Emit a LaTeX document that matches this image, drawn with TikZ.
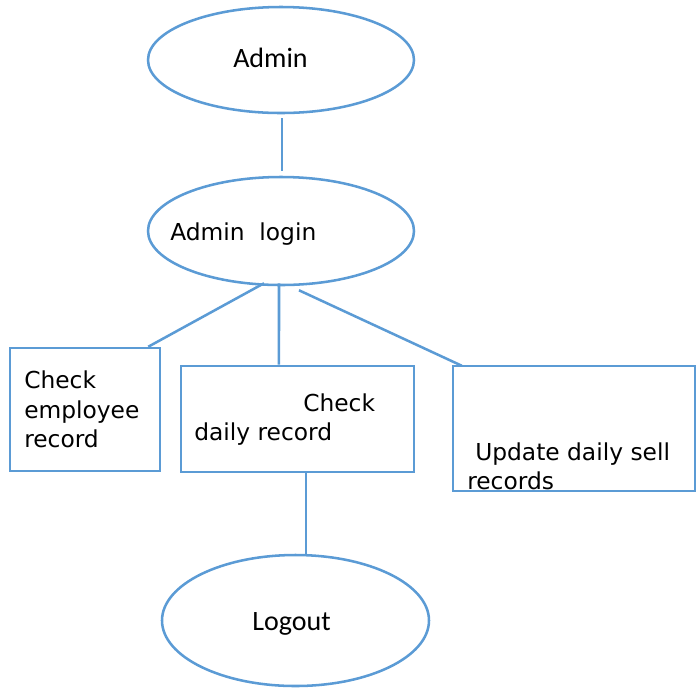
\documentclass[tikz,border=0pt]{standalone}
\usepackage{fontspec}
\setmainfont{DejaVu Sans}
\newfontfamily\calfont{Carlito}
\usetikzlibrary{shapes.geometric}
\definecolor{lineblue}{RGB}{91,155,213}
\tikzset{
  px/.style={x=0.75pt,y=-0.75pt},
  oval/.style={draw=lineblue,line width=1.9pt,ellipse,inner sep=0pt},
  panel/.style={draw=lineblue,line width=1.9pt,rectangle,inner sep=0pt},
  link/.style={draw=lineblue,line width=1.9pt},
  txt/.style={font=\fontsize{17.5}{21}\selectfont,anchor=base west,inner sep=0pt,text=black},
  caltxt/.style={font=\calfont\fontsize{21}{24}\selectfont,anchor=base west,inner sep=0pt,text=black}
}
\begin{document}
\begin{tikzpicture}[px]
\useasboundingbox (0,0) rectangle (700,687);
% ovals
\node[oval,minimum width=199.5pt,minimum height=79.5pt] (admin) at (281,60) {};
\node[oval,minimum width=199.5pt,minimum height=81pt] (login) at (281,231) {};
\node[oval,minimum width=200.25pt,minimum height=98.25pt] (logout) at (295.5,620.5) {};
% boxes
\node[panel,minimum width=112.5pt,minimum height=92.25pt] (emp) at (85,409.5) {};
\node[panel,minimum width=174.75pt,minimum height=79.5pt] (daily) at (297.5,419) {};
\node[panel,minimum width=181.5pt,minimum height=93.75pt] (sell) at (574,428.5) {};
% connectors
\draw[link] ([yshift=-3pt,xshift=0.75pt]admin.south) -- ([yshift=3.75pt,xshift=0.75pt]login.north);
\draw[link] ([xshift=-12.75pt,yshift=2.25pt]login.south) -- ([xshift=-9.75pt]emp.north east);
\draw[link] ([xshift=-1.5pt,yshift=2.25pt]login.south) -- ([xshift=-13.9pt]daily.north);
\draw[link] ([xshift=13.5pt,yshift=-3pt]login.south) -- ([xshift=7.5pt,yshift=-0.75pt]sell.north west);
\draw[link] ([xshift=6.4pt]daily.south) -- ([xshift=7.9pt]logout.north);
% labels
\node[caltxt] (tadmin) at (233,67) {Admin};
\node[txt] (tlogin) at (170,240) {Admin\ \ login};
\node[txt] (temp1) at (24,388) {Check};
\node[txt] (temp2) at (24,418) {employee};
\node[txt] (temp3) at (24,447) {record};
\node[txt] (tdaily1) at (303,411) {Check};
\node[txt] (tdaily2) at (194,440) {daily record};
\node[txt] (tsell1) at (475,460) {Update daily sell};
\node[txt] (tsell2) at (467,489) {records};
\node[caltxt] (tlogout) at (252,630) {Logout};
\end{tikzpicture}
\end{document}
